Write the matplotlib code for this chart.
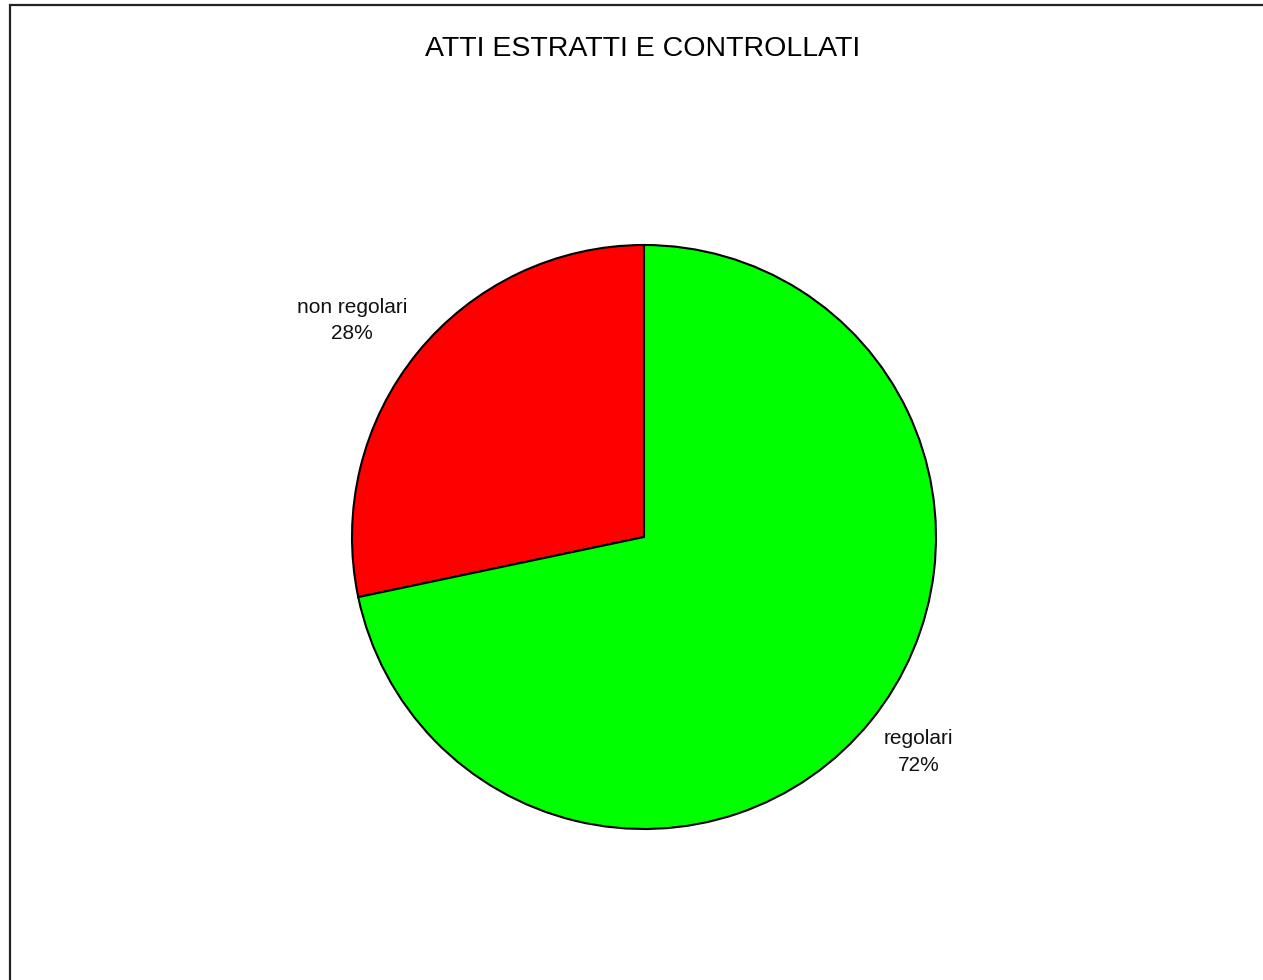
import matplotlib
matplotlib.use("Agg")
import numpy as np
from matplotlib import pyplot as plt
from matplotlib.patches import Rectangle

plt.rcParams['font.family'] = ['Liberation Sans', 'DejaVu Sans']

# chart data
categories = ['non regolari', 'regolari']
shares = [28.3, 71.7]
colours = ['#ff0000', '#00ff00']
title = 'ATTI ESTRATTI E CONTROLLATI'

W, H = 1263, 980
fig = plt.figure(figsize=(W / 100, H / 100), dpi=100)

# frame around the chart area (open at right and bottom like the source)
fig.patches.append(Rectangle((10 / W, -0.1), 1.2, 1 - 5 / H + 0.1,
                             transform=fig.transFigure, fill=False,
                             edgecolor='#222222', linewidth=1.6))

# pie axes centred at (644, 537) px with radius 292 px
cx, cy, r, half = 644, 537, 292, 400
ax = fig.add_axes([(cx - half) / W, (H - cy - half) / H, 2 * half / W, 2 * half / H])
wedges, _ = ax.pie(shares, colors=colours, startangle=90, counterclock=True,
                   wedgeprops=dict(edgecolor='black', linewidth=1.5))

# outside labels, like the spreadsheet's "category + percent" labels
label_dist = [1.245, 1.195]
label_shift = [2.5, 1.0]  # degrees
for w, c, v, d, s in zip(wedges, categories, shares, label_dist, label_shift):
    ang = np.deg2rad((w.theta1 + w.theta2) / 2 + s)
    ax.text(d * np.cos(ang), d * np.sin(ang), '%s\n%.0f%%' % (c, v),
            ha='center', va='center', fontsize=15, linespacing=1.5,
            color='#111111')

lim = half / r
ax.set_xlim(-lim, lim)
ax.set_ylim(-lim, lim)
ax.set_aspect('equal')
ax.axis('off')

fig.text(643 / W, 1 - 49 / H, title, ha='center', va='center', fontsize=20.5)

fig.savefig('out.png', dpi=100)
